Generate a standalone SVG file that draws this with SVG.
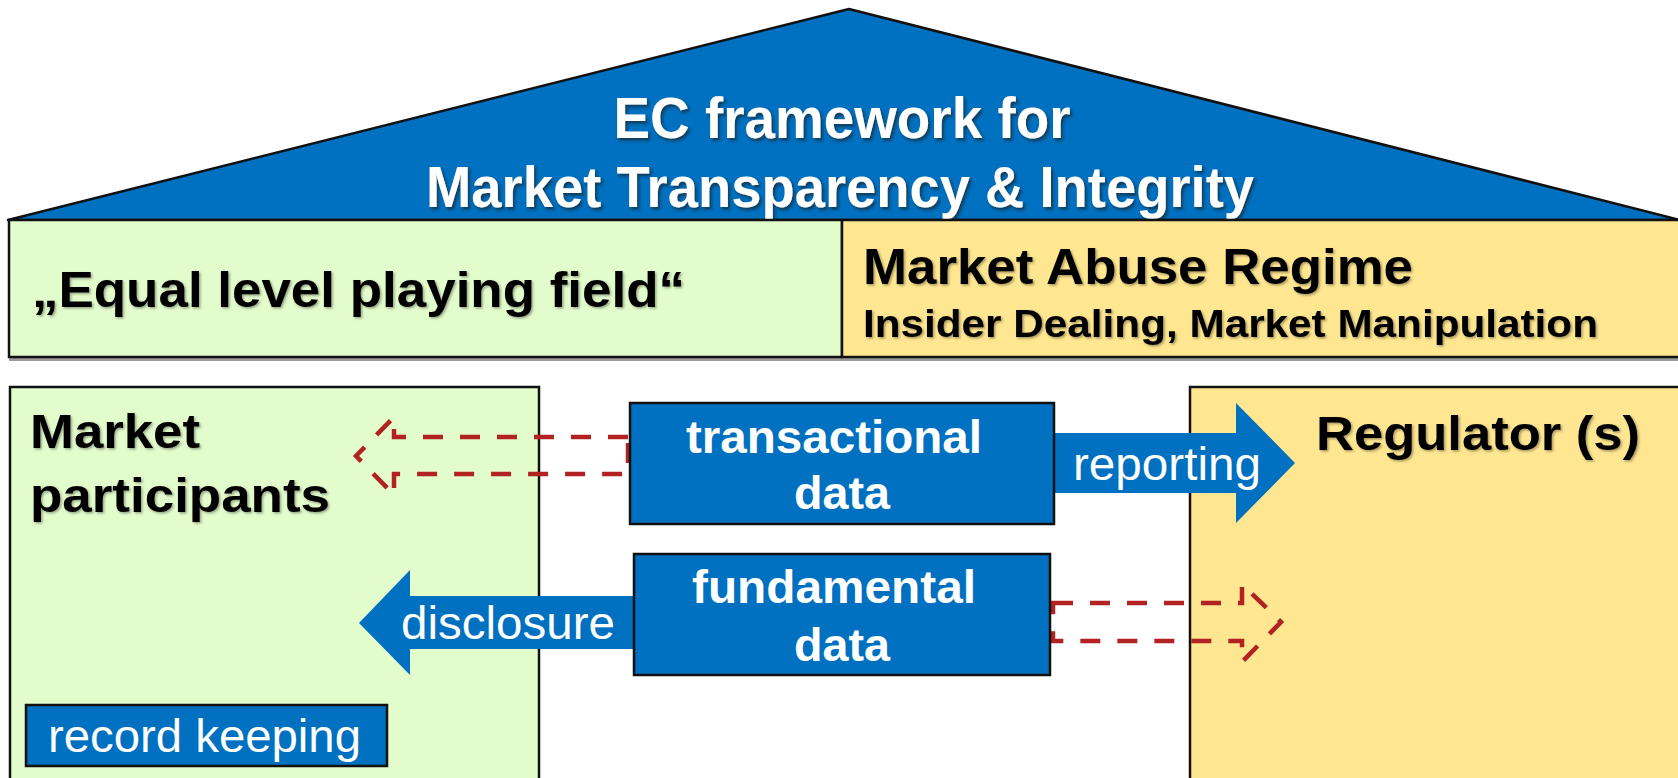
<svg xmlns="http://www.w3.org/2000/svg" width="1678" height="778" viewBox="0 0 1678 778">
  <defs>
    <filter id="titleShadow" x="-5%" y="-20%" width="110%" height="140%">
      <feDropShadow dx="2" dy="2.5" stdDeviation="1.5" flood-color="#1a1a1a" flood-opacity="0.65"/>
    </filter>
    <filter id="softShadow" x="-5%" y="-20%" width="110%" height="140%">
      <feDropShadow dx="1.5" dy="1.5" stdDeviation="1" flood-color="#000" flood-opacity="0.35"/>
    </filter>
    <style>
      .blue { fill: #0070C0; }
      .green { fill: #E3FCCC; }
      .yellow { fill: #FFE690; }
      .frame { stroke: #111; stroke-width: 2.5; }
      .title { font-family: "Liberation Sans", Arial, sans-serif; font-weight: bold; font-size: 58px; fill: #fff; text-anchor: middle; }
      .head { font-family: "Liberation Sans", Arial, sans-serif; font-weight: bold; fill: #000; }
      .boxlabel { font-family: "Liberation Sans", Arial, sans-serif; font-weight: bold; font-size: 46px; fill: #fff; }
      .flow { font-family: "Liberation Sans", Arial, sans-serif; font-size: 47px; fill: #fff; }
      .dashed { fill: none; stroke: #B22222; stroke-width: 4.5; stroke-dasharray: 20 17; }
    </style>
  </defs>

  <rect width="1678" height="778" fill="#fff"/>

  <!-- roof -->
  <g id="roof">
    <polygon class="blue" points="849,9 1680,220 8,220" stroke="#111" stroke-width="2.5" stroke-linejoin="round"/>
    <g filter="url(#titleShadow)">
      <text class="title" x="842" y="138" textLength="457" lengthAdjust="spacingAndGlyphs">EC framework for</text>
      <text class="title" x="840" y="207" textLength="828" lengthAdjust="spacingAndGlyphs">Market Transparency &amp; Integrity</text>
    </g>
  </g>

  <!-- band: level playing field -->
  <g id="band-level-field">
    <rect x="9" y="358" width="833" height="3" fill="#9a9a9a"/>
    <rect class="green frame" x="9" y="220" width="833" height="137"/>
    <text class="head" x="32" y="307" font-size="50" textLength="653" lengthAdjust="spacingAndGlyphs" filter="url(#softShadow)">„Equal level playing field“</text>
  </g>

  <!-- band: market abuse regime -->
  <g id="band-abuse">
    <rect x="842" y="358" width="840" height="3" fill="#9a9a9a"/>
    <rect class="yellow frame" x="842" y="220" width="840" height="137"/>
    <text class="head" x="863" y="284" font-size="50" textLength="550" lengthAdjust="spacingAndGlyphs" filter="url(#softShadow)">Market Abuse Regime</text>
    <text class="head" x="863" y="337" font-size="38" textLength="735" lengthAdjust="spacingAndGlyphs" filter="url(#softShadow)">Insider Dealing, Market Manipulation</text>
  </g>

  <!-- market participants -->
  <g id="market-participants">
    <rect class="green frame" x="10" y="387" width="529" height="420"/>
    <text class="head" x="30" y="448" font-size="48" textLength="170" lengthAdjust="spacingAndGlyphs" filter="url(#softShadow)">Market</text>
    <text class="head" x="30" y="512" font-size="48" textLength="300" lengthAdjust="spacingAndGlyphs" filter="url(#softShadow)">participants</text>
  </g>

  <!-- record keeping -->
  <g id="record-keeping">
    <rect class="blue frame" x="26" y="705" width="361" height="61"/>
    <text class="flow" x="48" y="752" textLength="313" lengthAdjust="spacingAndGlyphs">record keeping</text>
  </g>

  <!-- regulator -->
  <g id="regulator">
    <rect class="yellow frame" x="1190" y="387" width="500" height="420"/>
    <text class="head" x="1316" y="450" font-size="48" textLength="324" lengthAdjust="spacingAndGlyphs" filter="url(#softShadow)">Regulator (s)</text>
  </g>

  <!-- flows between parties and data -->
  <g id="connectors">
    <polygon class="blue" points="1054,433 1236,433 1236,403 1295,463 1236,523 1236,493 1054,493"/>
    <text class="flow" x="1073" y="480" textLength="188" lengthAdjust="spacingAndGlyphs">reporting</text>

    <polygon class="blue" points="633,596 410,596 410,570 359,623 410,675 410,649 633,649"/>
    <text class="flow" x="401" y="639" textLength="214" lengthAdjust="spacingAndGlyphs">disclosure</text>

    <polygon class="dashed" points="628,437 394,437 394,417 356,456 394,495 394,474 628,474"/>
    <polygon class="dashed" points="1053,603 1242,603 1242,584 1281,622 1242,662 1242,641 1053,641"/>
  </g>

  <!-- transactional data -->
  <g id="transactional-data">
    <rect class="blue frame" x="630" y="403" width="424" height="121"/>
    <text class="boxlabel" x="686" y="453" textLength="296" lengthAdjust="spacingAndGlyphs">transactional</text>
    <text class="boxlabel" x="794" y="509" textLength="96" lengthAdjust="spacingAndGlyphs">data</text>
  </g>

  <!-- fundamental data -->
  <g id="fundamental-data">
    <rect class="blue frame" x="634" y="554" width="416" height="121"/>
    <text class="boxlabel" x="692" y="603" textLength="284" lengthAdjust="spacingAndGlyphs">fundamental</text>
    <text class="boxlabel" x="794" y="661" textLength="96" lengthAdjust="spacingAndGlyphs">data</text>
  </g>
</svg>
